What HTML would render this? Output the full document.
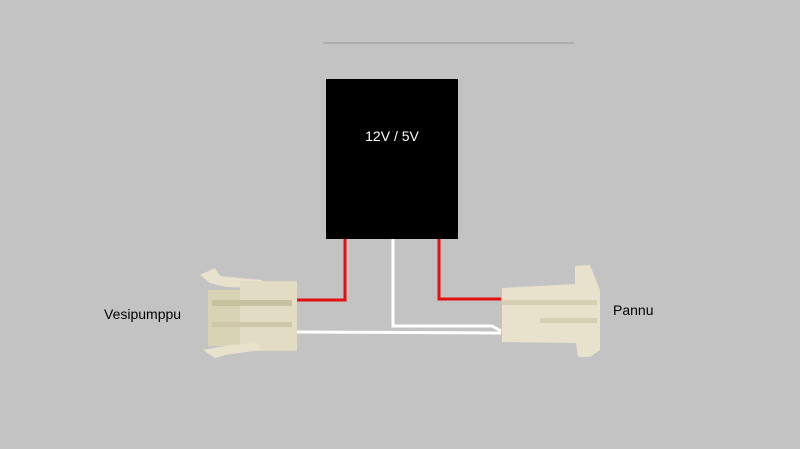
<!DOCTYPE html>
<html><head><style>
html,body{margin:0;padding:0}
body{width:800px;height:449px;background:#c3c3c3;position:relative;overflow:hidden;font-family:"Liberation Sans",sans-serif}
.t{position:absolute;font-size:14px;color:#000}
</style></head><body>
<svg width="800" height="449" style="position:absolute;left:0;top:0">
<line x1="323" y1="43" x2="574" y2="43" stroke="#a8a8a4" stroke-width="1.5"/>
<rect x="326" y="79" width="132" height="160" fill="#000"/>
<text x="392" y="141" font-size="14" fill="#fff" text-anchor="middle" font-family="Liberation Sans">12V / 5V</text>
<polyline points="345,239 345,300 296,300" fill="none" stroke="#e21010" stroke-width="3"/>
<polyline points="439,239 439,299 501,299" fill="none" stroke="#e21010" stroke-width="3"/>
<polyline points="393,239 393,326 492,326 501,331" fill="none" stroke="#fff" stroke-width="3"/>
<line x1="294" y1="332" x2="501" y2="333" stroke="#fff" stroke-width="3"/>
<!-- left connector -->
<polygon points="200,275 215,268 220,276 262,280 262,288 226,287 210,283" fill="#e8e2cc"/>
<rect x="208" y="290" width="48" height="56" fill="#d9d3b6"/>
<rect x="240" y="281" width="57" height="70" fill="#e2dcc4"/>
<rect x="212" y="300" width="80" height="6" fill="#c8c1a0"/>
<rect x="212" y="322" width="80" height="5" fill="#cfc8a8"/>
<polygon points="203,350 230,345 258,343 260,350 225,355 215,358" fill="#e8e2cc"/>
<!-- right connector -->
<polygon points="502,288 575,284 575,266 590,265 600,290 600,350 590,357 578,357 576,343 502,342" fill="#e8e2cc"/>
<rect x="502" y="300" width="95" height="5" fill="#d6cfb2"/>
<rect x="540" y="318" width="57" height="5" fill="#d6cfb2"/>
</svg>
<div class="t" style="left:104px;top:306px">Vesipumppu</div>
<div class="t" style="left:613px;top:302px">Pannu</div>
</body></html>
